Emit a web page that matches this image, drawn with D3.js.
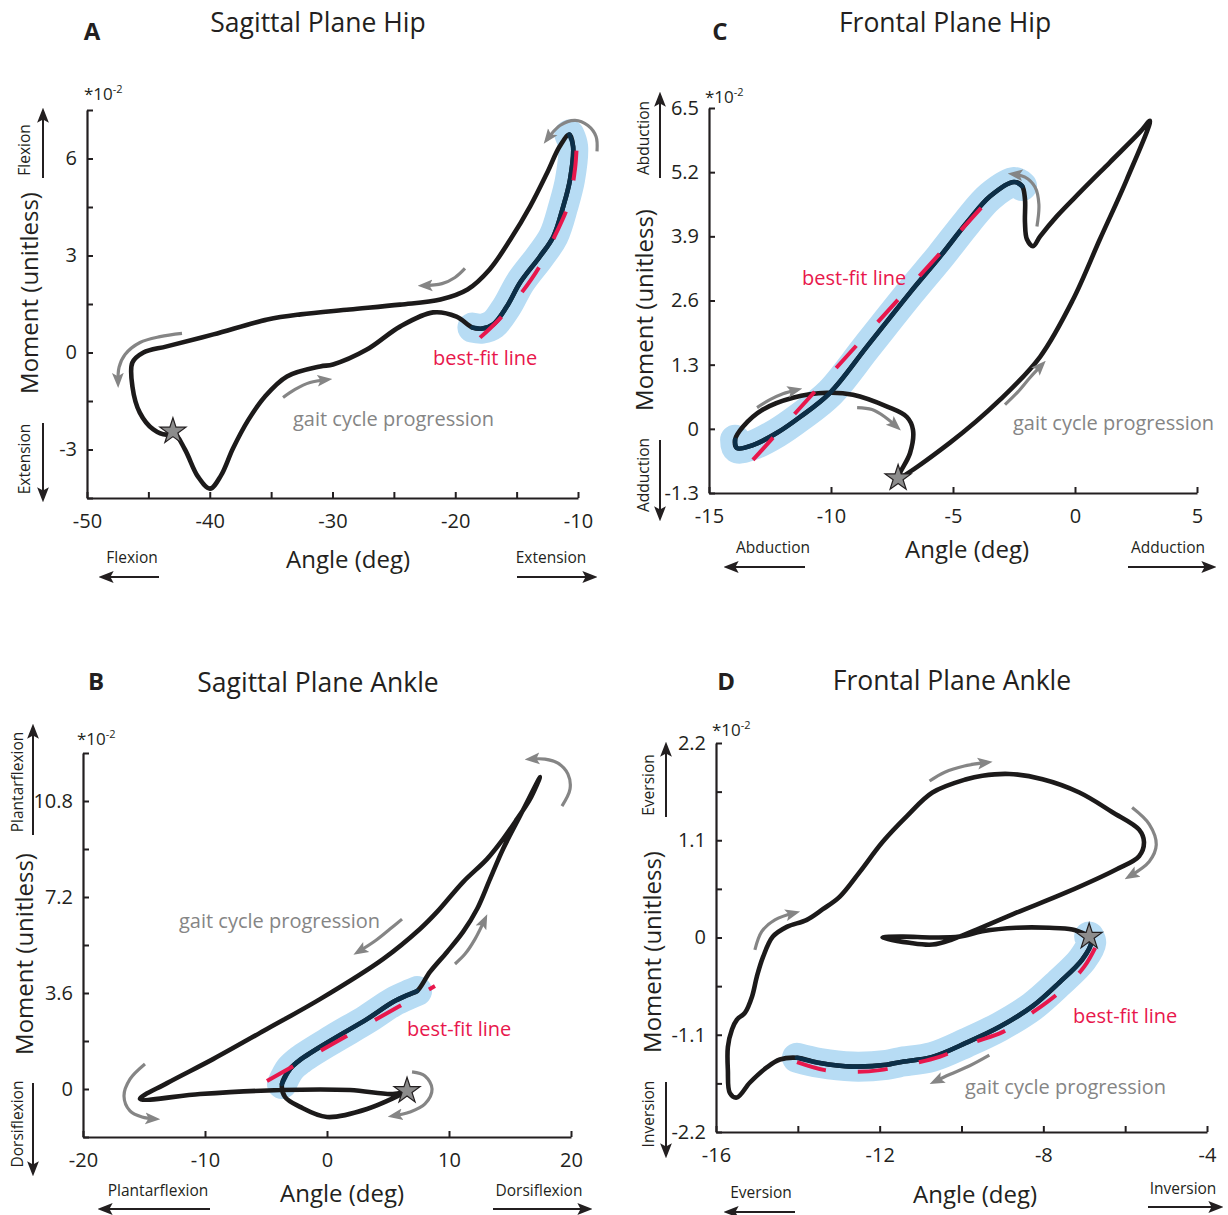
<!DOCTYPE html>
<html><head><meta charset="utf-8">
<script src="https://cdn.jsdelivr.net/npm/d3@7"></script>
<style>body{margin:0;background:#fff}svg{display:block}text{font-family:"Open Sans",sans-serif}</style>
</head><body><svg id="c" width="1228" height="1215"></svg>
<script>
// ---------- Panel A: sagittal plane hip ----------
const hipSagAngle  = [-43.0,-42.02,-40.96,-39.98,-39.08,-38.11,-36.88,-35.50,-33.71,-31.0,-29.96,-27.2,-24.5,-21.8,-19.9,-18.6,-17.8,-16.9,-15.8,-14.7,-13.1,-12.0,-11.2,-10.65,-10.4,-10.7,-11.5,-12.5,-13.9,-15.5,-17.2,-19.0,-21.2,-24.5,-28.6,-32.6,-35.3,-39.7,-43.5,-45.4,-46.3,-46.3,-45.7,-44.6,-43.5];
const hipSagMoment = [-2.44,-3.00,-3.84,-4.21,-3.80,-2.97,-2.10,-1.36,-0.74,-0.43,-0.37,0.09,0.80,1.24,1.11,0.77,0.74,0.87,1.42,2.17,2.97,3.59,4.52,5.35,6.37,6.74,6.37,5.57,4.52,3.50,2.57,1.95,1.64,1.48,1.33,1.18,1.02,0.56,0.19,0.0,-0.31,-1.05,-1.86,-2.38,-2.54];
const hipSagFitAngle  = [-17.98,-16.44,-14.72,-13.18,-11.87,-10.81,-10.24,-10.08];
const hipSagFitMoment = [0.46,1.02,1.79,2.63,3.62,4.55,5.69,6.65];
const hipSagArrows = [
  [[-42.26,0.59],[-44.05,0.49],[-45.68,0.31],[-46.90,-0.06],[-47.39,-0.46],[-47.47,-0.93]],
  [[-34.03,-1.39],[-33.05,-1.14],[-31.83,-0.93],[-30.45,-0.84]],
  [[-19.21,2.60],[-20.02,2.32],[-21.08,2.13],[-22.63,2.07]],
  [[-8.45,6.22],[-8.53,6.68],[-9.19,7.02],[-10.24,7.18],[-11.47,7.02],[-12.53,6.59]]
];
const hipSagXTicks = [-50,-45,-40,-35,-30,-25,-20,-15,-10];
const hipSagXLabels = [-50,-40,-30,-20,-10];
const hipSagYTicks = [-4.5,-3,-1.5,0,1.5,3,4.5,6,7.5];
const hipSagYLabels = [-3,0,3,6];

// ---------- Panel C: frontal plane hip ----------
const hipFrontAngle  = [-7.25,-5.12,-3.07,-1.43,-0.08,1.02,2.13,3.07,2.66,1.43,0.20,-0.74,-1.43,-1.72,-1.97,-2.05,-2.05,-2.17,-2.50,-3.48,-4.43,-5.53,-6.76,-8.52,-10.04,-11.27,-12.21,-13.20,-13.85,-13.93,-13.61,-12.79,-11.56,-10.16,-9.10,-7.70,-6.89,-6.64,-6.76,-7.17];
const hipFrontMoment = [-1.00,-0.28,0.59,1.46,2.62,3.84,5.06,6.24,6.01,5.40,4.79,4.31,3.90,3.70,3.84,4.18,4.65,4.92,5.00,4.71,4.18,3.49,2.76,1.67,0.73,0.24,-0.08,-0.33,-0.39,-0.22,0.04,0.39,0.63,0.73,0.69,0.45,0.24,-0.02,-0.49,-0.89];
const hipFrontFitAngle  = [-13.2,-3.07];
const hipFrontFitMoment = [-0.63,4.90];
const hipFrontArrows = [
  [[-13.03,0.43],[-12.50,0.59],[-11.97,0.71],[-11.39,0.79]],
  [[-8.93,0.43],[-8.32,0.39],[-7.79,0.24],[-7.30,0.04]],
  [[-1.56,4.10],[-1.48,4.55],[-1.64,4.90],[-2.05,5.10],[-2.54,5.16]],
  [[-2.87,0.49],[-2.34,0.75],[-1.84,1.04],[-1.35,1.30]]
];
const hipFrontXTicks = [-15,-10,-5,0,5];
const hipFrontXLabels = [-15,-10,-5,0,5];
const hipFrontYTicks = [-1.3,0,1.3,2.6,3.9,5.2,6.5];
const hipFrontYLabels = [-1.3,0,1.3,2.6,3.9,5.2,6.5];

// ---------- Panel B: sagittal plane ankle ----------
const ankleSagAngle  = [6.56,3.28,0.0,-2.21,-3.44,-3.69,-3.03,-2.21,0.49,3.28,5.41,6.80,7.38,8.44,9.84,11.15,12.30,13.36,14.43,15.82,17.46,16.64,15.57,14.43,13.11,11.15,9.02,7.62,4.59,-0.57,-4.92,-9.34,-13.11,-15.33,-10.41,-3.85,1.89,5.41];
const ankleSagMoment = [-0.07,-0.75,-1.05,-0.67,-0.30,0.19,0.75,1.09,1.87,2.62,3.26,3.56,3.67,4.39,5.14,5.89,6.75,7.87,9.00,10.24,11.70,10.87,10.12,9.37,8.62,7.76,6.64,6.00,4.87,3.37,2.25,1.12,0.22,-0.37,-0.19,-0.04,-0.04,-0.19];
const ankleSagFitAngle  = [-4.92,8.85];
const ankleSagFitMoment = [0.30,3.86];
const ankleSagArrows = [
  [[-14.92,0.94],[-16.15,0.37],[-16.64,-0.26],[-16.15,-0.82],[-15.16,-1.05],[-14.10,-1.12]],
  [[6.15,6.37],[5.16,6.00],[3.93,5.55],[2.54,5.14]],
  [[10.49,4.69],[11.31,5.06],[12.13,5.62],[12.95,6.37]],
  [[19.26,10.61],[19.92,11.25],[19.75,11.81],[18.93,12.22],[17.87,12.37],[16.64,12.37]],
  [[6.97,0.64],[8.03,0.49],[8.61,0.0],[8.03,-0.56],[6.80,-0.86],[5.41,-1.01]]
];
const ankleSagXTicks = [-20,-10,0,10,20];
const ankleSagXLabels = [-20,-10,0,10,20];
const ankleSagYTicks = [-1.8,0,1.8,3.6,5.4,7.2,9.0,10.8,12.6];
const ankleSagYLabels = [0,3.6,7.2,10.8];

// ---------- Panel D: frontal plane ankle ----------
const ankleFrontAngle  = [-6.88,-6.83,-7.05,-7.61,-8.27,-9.07,-9.88,-10.71,-11.51,-11.83,-12.66,-13.46,-14.02,-14.44,-14.76,-15.17,-15.49,-15.66,-15.71,-15.71,-15.61,-15.49,-15.29,-15.12,-15.00,-14.85,-14.61,-14.27,-13.78,-13.39,-12.98,-12.49,-11.93,-11.34,-10.71,-9.88,-9.49,-8.83,-8.02,-7.12,-6.32,-5.66,-5.54,-5.66,-6.22,-7.44,-8.66,-9.63,-10.22,-10.71,-11.27,-11.93,-11.44,-10.71,-10.05,-9.49,-8.66,-7.85,-7.29,-6.95];
const ankleFrontMoment = [0.01,-0.06,-0.25,-0.51,-0.78,-1.01,-1.19,-1.35,-1.41,-1.44,-1.46,-1.42,-1.36,-1.38,-1.47,-1.64,-1.81,-1.76,-1.50,-1.24,-1.04,-0.93,-0.85,-0.67,-0.44,-0.22,0.01,0.12,0.20,0.32,0.46,0.74,1.08,1.37,1.64,1.79,1.83,1.85,1.79,1.64,1.42,1.22,1.08,0.92,0.77,0.51,0.28,0.09,-0.02,-0.08,-0.06,0.0,0.01,0.0,0.01,0.07,0.11,0.11,0.09,0.03];
const ankleFrontFitAngle  = [-14.02,-13.34,-12.66,-12.0,-11.34,-10.54,-9.73,-9.0,-8.27,-7.61,-7.0,-6.63];
const ankleFrontFitMoment = [-1.41,-1.50,-1.52,-1.50,-1.44,-1.35,-1.19,-1.07,-0.85,-0.62,-0.33,-0.02];
const ankleFrontArrows = [
  [[-15.05,-0.14],[-14.88,0.07],[-14.56,0.20],[-14.07,0.28]],
  [[-10.78,1.77],[-10.41,1.87],[-9.93,1.94],[-9.37,1.98]],
  [[-5.83,1.47],[-5.41,1.28],[-5.24,1.05],[-5.41,0.86],[-5.90,0.69]],
  [[-9.32,-1.33],[-9.80,-1.45],[-10.29,-1.55],[-10.66,-1.63]]
];
const ankleFrontXTicks = [-16,-14,-12,-10,-8,-6,-4];
const ankleFrontXLabels = [-16,-12,-8,-4];
const ankleFrontYTicks = [-2.2,-1.65,-1.1,-0.55,0,0.55,1.1,1.65,2.2];
const ankleFrontYLabels = [-2.2,-1.1,0,1.1,2.2];

const INK = "#231f20", GREY = "#858585", RED = "#e8174c";

const svg = d3.select("#c");
const defs = svg.append("defs");
function marker(id, color, size){
  defs.append("marker").attr("id", id).attr("viewBox", "0 -6 14 12")
    .attr("refX", 9).attr("refY", 0).attr("markerWidth", size).attr("markerHeight", size)
    .attr("markerUnits", "userSpaceOnUse").attr("orient", "auto")
    .append("path").attr("d", "M0,-5.5L14,0L0,5.5L3,0Z").attr("fill", color);
}
marker("gh", GREY, 15);
marker("bh", INK, 15);

const panels = [
  {letter:"A", title:"Sagittal Plane Hip", angle:hipSagAngle, moment:hipSagMoment, fitA:hipSagFitAngle, fitM:hipSagFitMoment,
   arrows:hipSagArrows, hl:[15,25], xDomain:[-50,-10], yDomain:[-4.5,7.5],
   xTicks:hipSagXTicks, xLabels:hipSagXLabels, yTicks:hipSagYTicks, yLabels:hipSagYLabels,
   box:{l:87,r:578,t:110,b:498},
   pos:{letter:[92,30], title:[318,22], exp:[84,100], yTitle:[28,293], up:["Flexion",24,150], down:["Extension",24,459],
        vArrows:[[43,178,43,113],[43,423,43,497]], xTitle:[348,558], left:["Flexion",132,557], right:["Extension",551,557],
        hArrows:[[159,577,104,577],[517,577,592,577]], fit:[433,357], gait:[293,418]}},
  {letter:"C", title:"Frontal Plane Hip", angle:hipFrontAngle, moment:hipFrontMoment, fitA:hipFrontFitAngle, fitM:hipFrontFitMoment,
   arrows:hipFrontArrows, hl:[17,29], xDomain:[-15,5], yDomain:[-1.3,6.5],
   xTicks:hipFrontXTicks, xLabels:hipFrontXLabels, yTicks:hipFrontYTicks, yLabels:hipFrontYLabels,
   box:{l:709,r:1197,t:108,b:493},
   pos:{letter:[720,30], title:[945,22], exp:[705,103], yTitle:[643,310], up:["Abduction",643,138], down:["Adduction",643,475],
        vArrows:[[660,178,660,97],[660,440,660,516]], xTitle:[967,548], left:["Abduction",773,547], right:["Adduction",1168,547],
        hArrows:[[805,567,729,567],[1128,567,1211,567]], fit:[802,277], gait:[1013,422]}},
  {letter:"B", title:"Sagittal Plane Ankle", angle:ankleSagAngle, moment:ankleSagMoment, fitA:ankleSagFitAngle, fitM:ankleSagFitMoment,
   arrows:ankleSagArrows, hl:[5,12], xDomain:[-20,20], yDomain:[-1.8,12.6],
   xTicks:ankleSagXTicks, xLabels:ankleSagXLabels, yTicks:ankleSagYTicks, yLabels:ankleSagYLabels,
   box:{l:83,r:571,t:753,b:1137},
   pos:{letter:[96,680], title:[318,682], exp:[77,745], yTitle:[23,954], up:["Plantarflexion",17,782], down:["Dorsiflexion",17,1124],
        vArrows:[[33,835,33,729],[33,1083,33,1171]], xTitle:[342,1192], left:["Plantarflexion",158,1190], right:["Dorsiflexion",539,1190],
        hArrows:[[210,1209,103,1209],[493,1209,587,1209]], fit:[407,1028], gait:[179,920]}},
  {letter:"D", title:"Frontal Plane Ankle", angle:ankleFrontAngle, moment:ankleFrontMoment, fitA:ankleFrontFitAngle, fitM:ankleFrontFitMoment,
   arrows:ankleFrontArrows, hl:[0,12], xDomain:[-16,-4], yDomain:[-2.2,2.2],
   xTicks:ankleFrontXTicks, xLabels:ankleFrontXLabels, yTicks:ankleFrontYTicks, yLabels:ankleFrontYLabels,
   box:{l:716,r:1207,t:743,b:1132},
   pos:{letter:[726,680], title:[952,680], exp:[712,736], yTitle:[651,952], up:["Eversion",648,785], down:["Inversion",648,1114],
        vArrows:[[666,817,666,747],[666,1082,666,1153]], xTitle:[975,1193], left:["Eversion",761,1192], right:["Inversion",1183,1188],
        hArrows:[[795,1212,729,1212],[1148,1207,1218,1207]], fit:[1073,1015], gait:[965,1086]}}
];

function txt(g, s, x, y, size, opts={}){
  const t = g.append("text").attr("x", 0).attr("y", 0)
    .attr("transform", `translate(${x},${y})` + (opts.rot ? " rotate(-90)" : ""))
    .attr("text-anchor", opts.anchor || "middle").attr("dominant-baseline", "central")
    .attr("font-size", size).attr("fill", opts.fill || INK).text(s);
  if (opts.weight) t.attr("font-weight", opts.weight);
  return t;
}

function drawPanel(p){
  const g = svg.append("g");
  const x = d3.scaleLinear().domain(p.xDomain).range([p.box.l, p.box.r]);
  const y = d3.scaleLinear().domain(p.yDomain).range([p.box.b, p.box.t]);
  const pts = d3.zip(p.angle, p.moment);
  const open = d3.line().x(d => x(d[0])).y(d => y(d[1])).curve(d3.curveCatmullRom.alpha(0.5));
  const closed = d3.line().x(d => x(d[0])).y(d => y(d[1])).curve(d3.curveCatmullRomClosed.alpha(0.5));
  const seg = pts.slice(p.hl[0], p.hl[1] + 1);

  // axes
  const fmt = v => (p.xLabels.includes(v) ? String(v) : "");
  const fmtY = v => (p.yLabels.includes(v) ? String(v) : "");
  const xa = g.append("g").attr("transform", `translate(0,${p.box.b})`)
    .call(d3.axisBottom(x).tickValues(p.xTicks).tickFormat(fmt).tickSizeInner(-6).tickSizeOuter(0).tickPadding(16));
  const ya = g.append("g").attr("transform", `translate(${p.box.l},0)`)
    .call(d3.axisLeft(y).tickValues(p.yTicks).tickFormat(fmtY).tickSizeInner(-6).tickSizeOuter(0).tickPadding(10));
  [xa, ya].forEach(a => {
    a.select(".domain").attr("stroke", INK).attr("stroke-width", 2.2);
    a.selectAll(".tick line").attr("stroke", INK).attr("stroke-width", 2);
    a.selectAll(".tick text").attr("font-size", 20).attr("fill", INK).attr("font-family", '"Open Sans",sans-serif');
  });

  // highlight band
  g.append("path").attr("d", open(seg)).attr("fill", "none").attr("stroke", "#b7dcf4")
    .attr("stroke-width", 30).attr("stroke-linecap", "round").attr("stroke-linejoin", "round");
  // loop
  g.append("path").attr("d", closed(pts)).attr("fill", "none").attr("stroke", "#1c1a1a")
    .attr("stroke-width", 4.6).attr("stroke-linejoin", "round");
  // highlighted segment
  g.append("path").attr("d", open(seg)).attr("fill", "none").attr("stroke", "#0c2f48")
    .attr("stroke-width", 4.6).attr("stroke-linecap", "round");
  // best-fit line
  g.append("path").attr("d", open(d3.zip(p.fitA, p.fitM))).attr("fill", "none").attr("stroke", RED)
    .attr("stroke-width", 4).attr("stroke-dasharray", "30,32");
  // progression arrows
  p.arrows.forEach(a => g.append("path").attr("d", open(a)).attr("fill", "none").attr("stroke", GREY)
    .attr("stroke-width", 3.2).attr("marker-end", "url(#gh)"));
  // start star
  g.append("path").attr("d", d3.symbol(d3.symbolStar, 210)())
    .attr("transform", `translate(${x(p.angle[0])},${y(p.moment[0])})`)
    .attr("fill", "#8c8c8c").attr("stroke", INK).attr("stroke-width", 1.2);

  // texts
  const q = p.pos;
  txt(g, p.letter, q.letter[0], q.letter[1], 24, {weight: "bold"});
  txt(g, p.title, q.title[0], q.title[1], 26.5);
  const e = g.append("text").attr("x", q.exp[0]).attr("y", q.exp[1]).attr("font-size", 17).attr("fill", INK);
  e.append("tspan").text("*10");
  e.append("tspan").attr("font-size", 11).attr("dy", -7).text("-2");
  txt(g, "Moment (unitless)", q.yTitle[0], q.yTitle[1], 24, {rot: true});
  txt(g, "Angle (deg)", q.xTitle[0], q.xTitle[1], 24);
  txt(g, q.up[0], q.up[1], q.up[2], 15.5, {rot: true});
  txt(g, q.down[0], q.down[1], q.down[2], 15.5, {rot: true});
  txt(g, q.left[0], q.left[1], q.left[2], 15.5);
  txt(g, q.right[0], q.right[1], q.right[2], 15.5);
  q.vArrows.concat(q.hArrows).forEach(a => g.append("line")
    .attr("x1", a[0]).attr("y1", a[1]).attr("x2", a[2]).attr("y2", a[3])
    .attr("stroke", INK).attr("stroke-width", 2).attr("marker-end", "url(#bh)"));
  txt(g, "best-fit line", q.fit[0], q.fit[1], 20, {anchor: "start", fill: RED});
  txt(g, "gait cycle progression", q.gait[0], q.gait[1], 20, {anchor: "start", fill: GREY});
}
panels.forEach(drawPanel);
</script>
</body></html>
